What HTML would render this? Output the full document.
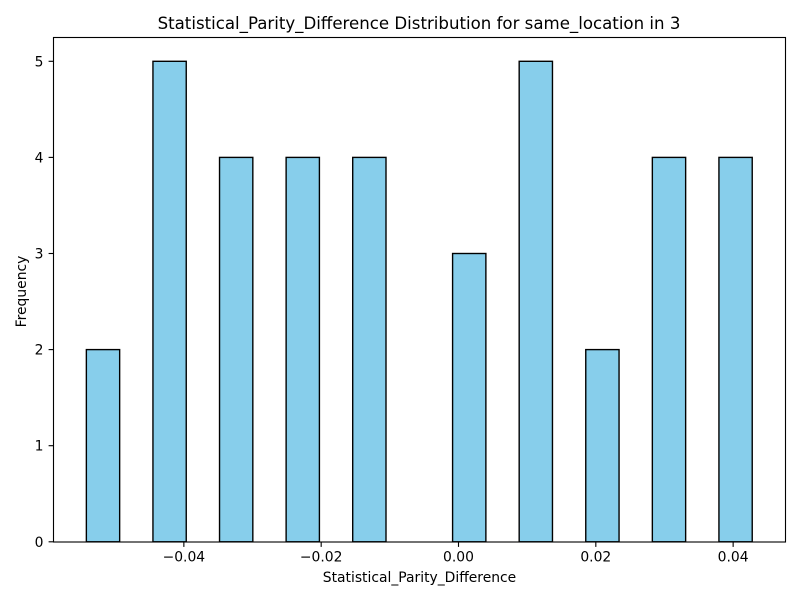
<!DOCTYPE html>
<html lang="en">
<head>
<meta charset="utf-8">
<title>Statistical_Parity_Difference Distribution for same_location in 3</title>
<style>
  html, body { margin: 0; padding: 0; background: #fff; }
  svg { display: block; }
  text { font-family: "DejaVu Sans", "Liberation Sans", sans-serif; fill: #000; }
</style>
</head>
<body>
<svg id="chart" xmlns="http://www.w3.org/2000/svg" width="800" height="600" viewBox="0 0 800 600"></svg>
<script>
const binCounts = [2, 0, 5, 0, 4, 0, 4, 0, 4, 0, 0, 3, 0, 5, 0, 2, 0, 4, 0, 4];
const binStart = -0.0542;
const binEnd = 0.04278;
const xTickValues = [-0.04, -0.02, 0, 0.02, 0.04];
const xTickLabels = ['\u22120.04', '\u22120.02', '0.00', '0.02', '0.04'];
const yTickValues = [0, 1, 2, 3, 4, 5];
const yTickLabels = ['0', '1', '2', '3', '4', '5'];
const titleText = 'Statistical_Parity_Difference Distribution for same_location in 3';
const xAxisText = 'Statistical_Parity_Difference';
const yAxisText = 'Frequency';

const svg = document.getElementById('chart');
const NS = 'http://www.w3.org/2000/svg';
const plot = { left: 53.5, right: 785.5, top: 37.5, bottom: 542 };
const xZero = 458.5, xPerUnit = 6866;
const yZero = 541.8, yPerUnit = 96.1;
function xScale(v) { return xZero + v * xPerUnit; }
function yScale(v) { return yZero - v * yPerUnit; }

function make(tag, attrs, text) {
  const el = document.createElementNS(NS, tag);
  for (const k in attrs) el.setAttribute(k, attrs[k]);
  if (text !== undefined) el.textContent = text;
  svg.appendChild(el);
  return el;
}

const bg = make('rect', { x: plot.left, y: plot.top, width: plot.right - plot.left, height: plot.bottom - plot.top, fill: '#fff' });



const binWidth = (binEnd - binStart) / binCounts.length;
binCounts.forEach(function (count, i) {
  const x0 = xScale(binStart + i * binWidth);
  const x1 = xScale(binStart + (i + 1) * binWidth);
  const y1 = yScale(count);
  const bar = make('rect', { x: x0, y: y1, width: x1 - x0, height: yScale(0) - y1, fill: '#87ceeb', stroke: '#000', 'stroke-width': 1.39 });
  
  
});

xTickValues.forEach(function (v, i) {
  const x = xScale(v);
  const tick = make('line', { x1: x, x2: x, y1: plot.bottom, y2: plot.bottom + 4.9, stroke: '#000', 'stroke-width': 1.11 });
  
  
  const label = make('text', { x: x, y: 561.5, 'text-anchor': 'middle', 'font-size': 13.89 }, xTickLabels[i]);
  
  
});

yTickValues.forEach(function (v, i) {
  const y = yScale(v);
  const tick = make('line', { x1: plot.left - 4.9, x2: plot.left, y1: y, y2: y, stroke: '#000', 'stroke-width': 1.11 });
  
  
  const label = make('text', { x: 43.5, y: y + 5, 'text-anchor': 'end', 'font-size': 13.89 }, yTickLabels[i]);
  
  
});

const frame = make('rect', { x: plot.left, y: plot.top, width: plot.right - plot.left, height: plot.bottom - plot.top, fill: 'none', stroke: '#000', 'stroke-width': 1.11 });



const title = make('text', { x: 419, y: 29, 'text-anchor': 'middle', 'font-size': 16.62 }, titleText);



const xTitle = make('text', { x: 419.5, y: 582, 'text-anchor': 'middle', 'font-size': 13.89 }, xAxisText);



const yTitle = make('text', { x: 0, y: 0, 'text-anchor': 'middle', 'font-size': 13.89, transform: 'translate(26 291.5) rotate(-90)' }, yAxisText);


</script>
</body>
</html>
